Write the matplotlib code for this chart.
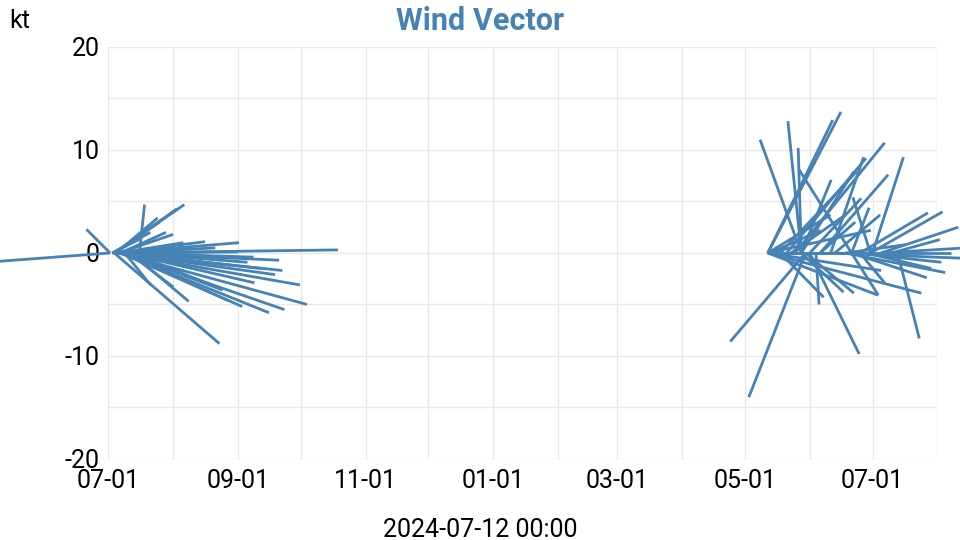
import numpy as np
import pandas as pd
import matplotlib
matplotlib.use('Agg')
import matplotlib.pyplot as plt
import matplotlib.dates as mdates

plt.rcParams['font.family'] = ['Roboto', 'DejaVu Sans']
plt.rcParams['axes.unicode_minus'] = False

# Observation times and wind components (kt)
obs_time = [
    # summer 2024
    '2024-07-02', '2024-07-02', '2024-07-03', '2024-07-04', '2024-07-06',
    '2024-07-06', '2024-07-07', '2024-07-07', '2024-07-05', '2024-07-05',
    '2024-07-06', '2024-07-07', '2024-07-08', '2024-07-09', '2024-07-09',
    '2024-07-12', '2024-07-11', '2024-07-09', '2024-07-12', '2024-07-04',
    '2024-07-05', '2024-07-06', '2024-07-06', '2024-07-07', '2024-07-04',
    '2024-07-04', '2024-07-16', '2024-07-05', '2024-07-06', '2024-07-07',
    '2024-07-04', '2024-07-03', '2024-07-06', '2024-07-08', '2024-07-09',
    '2024-07-03', '2024-07-05', '2024-07-10', '2024-07-12',
    # summer 2025
    '2025-05-12', '2025-05-12', '2025-05-28', '2025-05-28', '2025-05-28',
    '2025-06-21', '2025-06-21', '2025-05-30', '2025-05-30', '2025-06-04',
    '2025-06-01', '2025-07-13', '2025-05-18', '2025-05-21', '2025-05-25',
    '2025-07-01', '2025-05-28', '2025-06-01', '2025-06-06', '2025-05-28',
    '2025-06-11', '2025-06-25', '2025-06-30', '2025-07-05', '2025-07-10',
    '2025-05-12', '2025-06-11', '2025-05-12', '2025-06-18', '2025-06-21',
    '2025-06-25', '2025-05-30', '2025-05-28', '2025-05-18', '2025-05-13',
    '2025-05-23', '2025-06-06', '2025-06-13', '2025-06-18', '2025-06-23',
    '2025-06-28', '2025-05-13', '2025-07-05', '2025-06-30', '2025-06-21',
    '2025-05-12', '2025-05-12', '2025-05-12', '2025-05-12',
]
u_kt = [
    -12.0, -2.3, 21.9, 10.2, 18.3, 17.6, 15.9, 14.4, 16.1, 15.8,
    15.2, 11.8, 10.2, 9.5, 12.6, 5.6, 4.3, 2.5, 4.9, 12.1,
    8.6, 6.3, 5.3, 4.4, 6.8, 6.1, 0.5, 4.0, 11.6, 12.9,
    4.4, 3.7, 10.9, 13.4, 7.4, 2.6, 9.6, 11.7, 7.8,
    7.1, 6.3, -4.0, -1.3, -0.3, -5.1, 2.6, -7.3, -5.5, 0.3,
    4.8, 2.1, 7.4, 7.7, 8.7, 3.0, 2.9, 5.0, 6.6, 5.1,
    3.2, 6.6, 7.0, 7.5, 4.7, 17.8, 12.6, 14.9, 9.7, 7.3,
    2.4, 4.7, 4.1, 4.2, 4.9, 5.3, 3.4, 4.4, 5.8, 8.3,
    6.3, 5.8, 8.3, -1.7, 1.7,
    6.1, 10.0, 11.0, 10.7,
]
v_kt = [
    -0.9, 2.3, 0.3, -8.8, -5.0, -3.1, -5.5, -5.8, -1.7, -0.7,
    -2.1, -5.2, -4.6, -3.6, -2.9, -4.7, -3.3, -3.1, -2.0, 1.0,
    1.1, 1.0, 1.8, 2.0, 4.7, 4.3, 4.7, 3.4, 0.1, -0.4,
    3.0, 2.0, -1.2, -1.5, -0.9, 1.3, 0.5, -0.9, -3.1,
    13.7, 12.9, 11.0, 12.8, 10.2, 8.1, -4.1, -8.6, -14.0, -5.0,
    -9.8, -8.3, 7.9, 9.2, 10.7, 9.3, 7.1, 5.3, 7.6, 7.9,
    9.3, 3.9, 4.0, 2.5, 1.3, 0.0, -0.5, -3.9, -1.9, -2.4,
    -2.9, -3.9, -3.8, -4.3, 2.2, 3.7, 3.0, 3.7, 0.8, -0.9,
    -1.5, 0.0, 0.5, 5.4, 4.4,
    3.7, 2.2, -1.7, -4.1,
]

x_start = '2024-07-01'
x_end = '2025-08-01'
days_per_kt = 4.92   # keeps the arrows isotropic on screen
line_color = '#4682b4'
grid_color = '#e8e8e8'

fig = plt.figure(figsize=(9.6, 5.4), dpi=100)
ax = fig.add_axes([0.1125, 0.15, 0.864, 0.763])

t0 = mdates.date2num(pd.to_datetime(obs_time))
for t, u, v in zip(t0, u_kt, v_kt):
    ax.plot([t, t + u * days_per_kt], [0, v], color=line_color, lw=2.0,
            solid_capstyle='butt', clip_on=False, zorder=3)

ax.set_xlim(mdates.date2num(pd.Timestamp(x_start)),
            mdates.date2num(pd.Timestamp(x_end)))
ax.set_ylim(-20, 20)

ax.xaxis.set_major_locator(mdates.MonthLocator(bymonth=[1, 3, 5, 7, 9, 11]))
ax.xaxis.set_minor_locator(mdates.MonthLocator())
ax.xaxis.set_major_formatter(mdates.DateFormatter('%m-%d'))
ax.set_yticks([-20, -10, 0, 10, 20])
ax.set_yticks(np.arange(-20, 21, 5), minor=True)

ax.grid(True, which='both', color=grid_color, lw=1.0)
ax.set_axisbelow(True)
for s in ax.spines.values():
    s.set_visible(False)
ax.tick_params(which='both', length=0)
ax.tick_params(axis='x', labelsize=18, pad=7)
ax.tick_params(axis='y', labelsize=18, pad=6)

fig.text(0.5, 0.962, 'Wind Vector', ha='center', va='center',
         fontsize=22, fontweight='bold', color=line_color)
fig.text(0.021, 0.962, 'kt', ha='center', va='center', fontsize=18)
fig.text(0.5, 0.019, '2024-07-12 00:00', ha='center', va='center',
         fontsize=18)

fig.savefig('out.png', dpi=100)
